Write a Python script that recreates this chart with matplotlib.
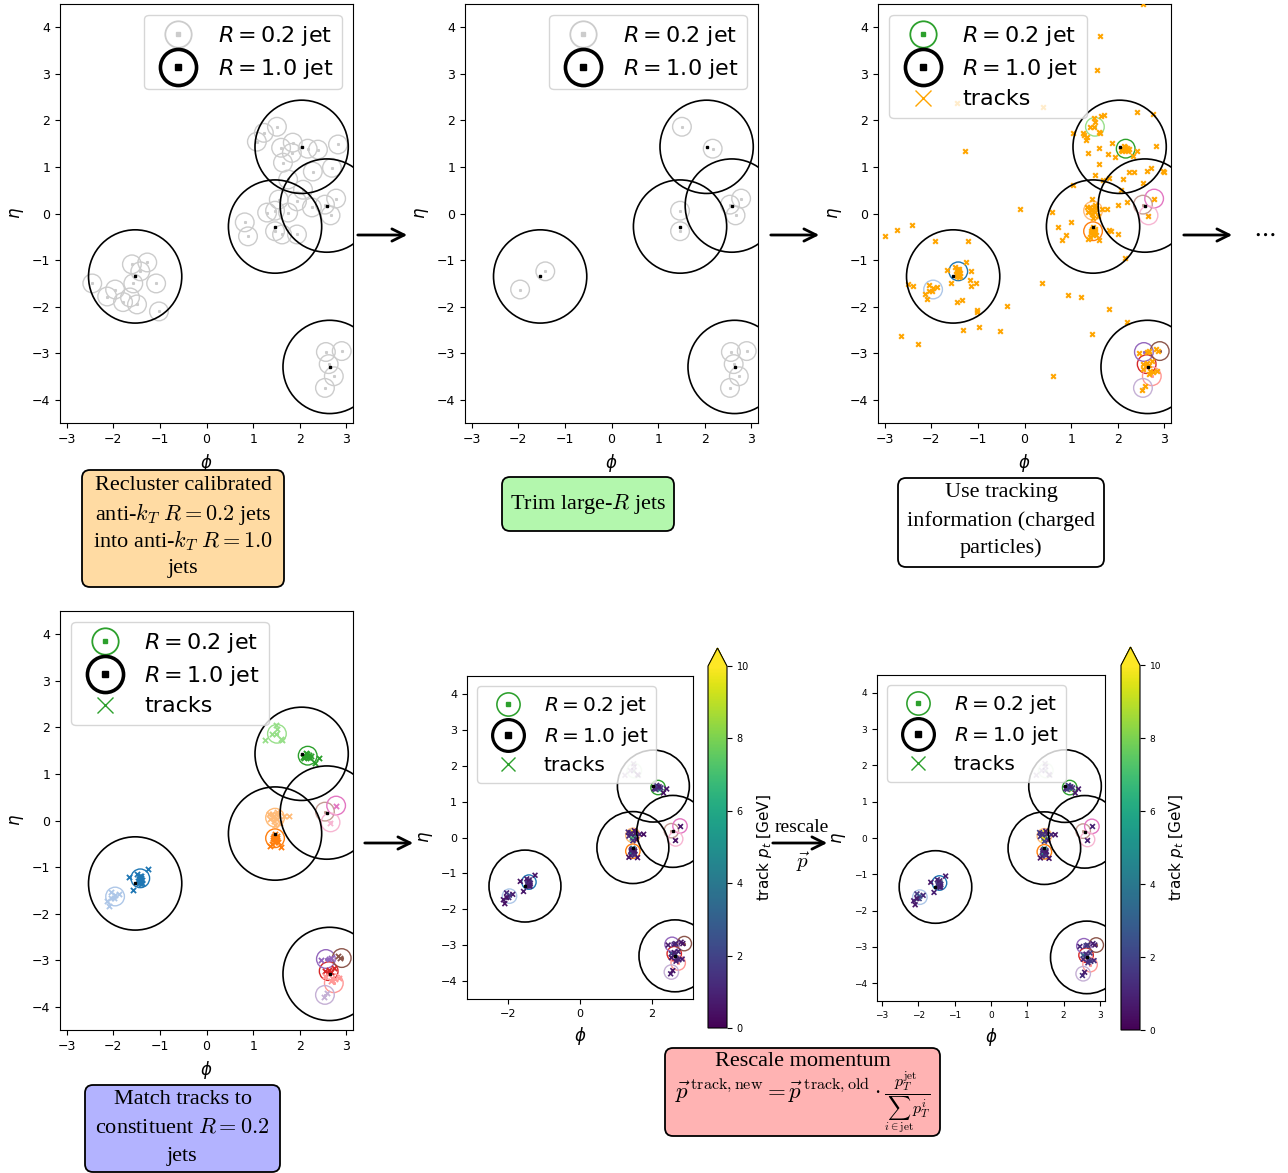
import numpy as np
import matplotlib
matplotlib.use('Agg')
import matplotlib.pyplot as plt
from matplotlib.patches import Circle, FancyArrowPatch, FancyBboxPatch
from matplotlib.lines import Line2D
from matplotlib.legend_handler import HandlerTuple
from matplotlib.transforms import IdentityTransform

W, H = 1288, 1173

# Large-R (R=1.0) jets
large_phi = [2.04, 1.47, 2.58, -1.53, 2.64]
large_eta = [1.43, -0.28, 0.17, -1.35, -3.29]

# R=0.2 jets that survive trimming (colour = tab20 index)
small_phi = [-1.42, -1.96, 1.47, 1.47, 2.17, 1.51, 2.62, 2.73, 2.56, 2.54, 2.90, 2.54, 2.78, 2.66]
small_eta = [-1.24, -1.63, -0.38, 0.06, 1.39, 1.86, -3.23, -3.49, -2.97, -3.74, -2.95, 0.19, 0.32, -0.04]
small_pt = [38.0, 10.0, 40.0, 40.0, 40.0, 5.0, 13.0, 7.0, 4.5, 2.2, 1.8, 3.0, 1.0, 0.9]

# R=0.2 jets removed by trimming
trimmed_phi = [-1.60, -1.27, -1.08, -1.57, -2.45, -2.13, -1.79, -1.64, -1.49, -1.02,
               1.08, 1.23, 1.60, 1.85, 1.83, 2.39, 2.82, 1.64, 2.28, 2.69, 1.75,
               2.07, 2.26, 1.94, 1.75, 1.55, 1.30, 0.82, 0.89, 1.62, 1.94]
trimmed_eta = [-1.09, -1.05, -1.50, -1.50, -1.50, -1.78, -1.90, -1.80, -1.95, -2.10,
               1.54, 1.73, 1.41, 1.52, 1.30, 1.37, 1.48, 1.09, 0.90, 0.98, 0.73,
               0.51, 0.13, 0.26, 0.02, 0.30, 0.02, -0.19, -0.49, -0.45, -0.45]

# tracks matched to each surviving R=0.2 jet
track_phi = [
    [-1.42, -1.45, -1.42, -1.40, -1.45, -1.38, -1.25, -1.66, -1.57, -1.48, -1.43, -1.41,
     -1.39, -1.44, -1.46, -1.40],
    [-2.04, -1.96, -1.87, -1.98, -2.04, -2.13, -2.09],
    [1.47, 1.45, 1.49, 1.43, 1.51, 1.47, 1.41, 1.53, 1.60, 1.36, 1.46, 1.50,
     1.44, 1.48, 1.52, 1.42],
    [1.34, 1.40, 1.49, 1.36, 1.51, 1.45, 1.57, 1.47, 1.51, 1.66, 1.77, 1.42, 1.54],
    [2.11, 2.19, 2.22, 2.17, 2.13, 2.41, 2.32, 2.06, 2.15, 2.25, 2.20, 2.10],
    [1.51, 1.49, 1.60, 1.40, 1.25, 1.49, 1.62],
    [2.54, 2.60, 2.66, 2.73, 2.62],
    [2.69, 2.75, 2.84, 2.67, 2.54],
    [2.45, 2.62, 2.66],
    [2.52, 2.58],
    [2.81, 2.86],
    [],
    [2.77],
    [2.64],
]
track_eta = [
    [-1.20, -1.26, -1.30, -1.24, -1.35, -1.28, -1.05, -1.22, -1.50, -1.15, -1.32, -1.18,
     -1.33, -1.22, -1.29, -1.36],
    [-1.54, -1.60, -1.58, -1.67, -1.67, -1.73, -1.84],
    [-0.30, -0.36, -0.40, -0.42, -0.34, -0.46, -0.50, -0.47, -0.56, -0.55, -0.38, -0.42,
     -0.33, -0.44, -0.38, -0.37],
    [0.15, 0.13, 0.15, 0.04, 0.04, -0.02, -0.06, -0.09, 0.19, 0.09, 0.09, 0.08, 0.11],
    [1.39, 1.37, 1.33, 1.37, 1.45, 1.35, 1.24, 1.36, 1.42, 1.38, 1.41, 1.34],
    [1.97, 1.86, 1.75, 1.86, 1.73, 2.05, 1.73],
    [-3.23, -3.27, -3.25, -3.17, -3.20],
    [-3.38, -3.40, -3.38, -3.44, -3.34],
    [-2.99, -2.97, -2.95],
    [-3.79, -3.70],
    [-2.91, -2.95],
    [],
    [0.32],
    [-0.06],
]
track_pt = [
    [8.5, 5.0, 3.0, 2.0, 1.5, 1.0, 0.6, 0.5, 0.7, 0.8, 1.2, 1.0, 0.9, 0.6, 1.1, 0.7],
    [1.0, 2.0, 0.8, 1.5, 0.5, 0.6, 0.4],
    [4.0, 8.0, 3.0, 2.5, 2.0, 1.5, 1.2, 1.0, 0.5, 0.5, 5.5, 1.0, 0.8, 1.3, 0.6, 0.9],
    [1.2, 0.8, 10.5, 1.0, 3.0, 7.0, 0.5, 1.5, 0.6, 0.9, 0.4, 1.1, 0.7],
    [3.0, 9.0, 6.5, 4.0, 1.0, 0.6, 0.5, 0.7, 2.0, 1.5, 0.8, 1.2],
    [0.5, 0.8, 0.4, 0.6, 0.3, 0.3, 0.4],
    [1.5, 3.0, 2.0, 1.0, 0.8],
    [1.0, 1.2, 0.8, 0.9, 0.7],
    [0.7, 1.2, 0.9],
    [0.8, 0.5],
    [0.6, 0.5],
    [],
    [0.6],
    [0.5],
]

# tracks not matched to any R=0.2 jet
other_phi = [2.54, 1.62, 1.55, -1.27, -0.10, -2.99, -2.73, -2.41, -1.92, -1.21, 0.40, -1.45,
             2.41, 2.75, 1.64, 1.71, 1.04, 1.27, 1.34, 1.32, 1.87, 1.60, 1.36, 1.79, 1.94,
             2.82, 1.60, 2.24, 2.34, 2.62, 2.71, 2.96, 2.99, 1.51, 1.68, 1.81, 2.11, 2.54,
             1.04, 2.07, 1.45, 2.00, 2.20, 0.59, 1.00, 0.72, 0.89, 0.80, 1.81, 1.85, 2.00,
             2.15, 1.81, 2.19, 1.45, -1.15, -1.17, -1.04, -1.15, -2.49, -2.39, -1.34, -1.45,
             -1.02, -1.02, -0.37, -1.32, -0.97, -0.52, -2.65, -2.28, 0.61, 0.37, 0.93, 1.21]
other_eta = [4.49, 3.81, 3.08, 1.35, 0.10, -0.49, -0.36, -0.25, -0.60, -0.58, 2.29, 2.37,
             2.18, 2.14, 2.10, 2.12, 1.73, 1.69, 1.63, 1.58, 1.52, 1.41, 1.30, 1.28, 1.22,
             1.45, 1.07, 0.90, 0.88, 0.92, 0.98, 0.92, 0.88, 0.83, 0.71, 0.77, 0.73, 0.66,
             0.62, 0.51, 0.32, 0.19, 0.24, 0.04, -0.19, -0.28, -0.47, -0.56, -0.36, -0.38, -0.45,
             -0.96, -2.05, -2.33, -2.59, -1.24, -1.43, -1.48, -1.56, -1.52, -1.56, -1.86, -1.90,
             -2.07, -2.12, -1.99, -2.50, -2.44, -2.52, -2.63, -2.80, -3.49, -1.48, -1.75, -1.78]

jet_colors = [plt.cm.tab20(i) for i in range(len(small_phi))]
grey = '0.8'

fig = plt.figure(figsize=(W / 100, H / 100), dpi=100)


def px_axes(left, top, right, bottom):
    return fig.add_axes([left / W, 1 - bottom / H, (right - left) / W, (bottom - top) / H])


def setup(ax, xticks, tick_size=9, label_size=12):
    ax.set_xlim(-np.pi, np.pi)
    ax.set_ylim(-4.5, 4.5)
    ax.set_aspect('equal')
    ax.set_xticks(xticks)
    ax.set_yticks(range(-4, 5))
    ax.tick_params(labelsize=tick_size)
    ax.set_xlabel(r'$\phi$', fontsize=label_size)
    ax.set_ylabel(r'$\eta$', fontsize=label_size)


def draw_large(ax):
    for p, e in zip(large_phi, large_eta):
        ax.add_patch(Circle((p, e), 1.0, fill=False, ec='k', lw=1.2, zorder=3))
        ax.plot(p, e, 's', ms=1.5, color='k', zorder=4)


def draw_small(ax, phis, etas, colors, alphas=None):
    for i, (p, e) in enumerate(zip(phis, etas)):
        c = colors[i]
        a = 1.0 if alphas is None else alphas[i]
        ax.add_patch(Circle((p, e), 0.2, fill=False, ec=c, lw=1.0, alpha=a, zorder=2))
        ax.plot(p, e, 's', ms=1.2, color=c, alpha=a, zorder=2)


def ring(color, scale, big=False):
    if big:
        return (Line2D([], [], ls='none', marker='o', ms=26 * scale, mfc='none', mec=color, mew=2.6 * scale),
                Line2D([], [], ls='none', marker='s', ms=4.5 * scale, color=color))
    return (Line2D([], [], ls='none', marker='o', ms=19 * scale, mfc='none', mec=color, mew=1.3 * scale),
            Line2D([], [], ls='none', marker='s', ms=2.8 * scale, color=color))


def add_legend(ax, small_color, track_color=None, loc='upper right', fontsize=16, scale=1.0):
    handles = [ring(small_color, scale), ring('k', scale, big=True)]
    labels = [r'$R = 0.2$ jet', r'$R = 1.0$ jet']
    if track_color is not None:
        handles.append(Line2D([], [], ls='none', marker='x', ms=12 * scale, mew=1, color=track_color))
        labels.append('tracks')
    ax.legend(handles, labels, handler_map={tuple: HandlerTuple(ndivide=1)},
              loc=loc, fontsize=fontsize, handlelength=2.25, handletextpad=0.65,
              labelspacing=0.4)


all_phi = np.concatenate([np.concatenate([np.array(t) for t in track_phi]), other_phi])
all_eta = np.concatenate([np.concatenate([np.array(t) for t in track_eta]), other_eta])

# step 1: recluster
ax1 = px_axes(60, 3, 353, 424)
setup(ax1, range(-3, 4))
draw_small(ax1, trimmed_phi + small_phi, trimmed_eta + small_eta,
           [grey] * (len(trimmed_phi) + len(small_phi)))
draw_large(ax1)
add_legend(ax1, grey)

# step 2: trimming
ax2 = px_axes(465, 3, 758, 424)
setup(ax2, range(-3, 4))
draw_small(ax2, small_phi, small_eta, [grey] * len(small_phi))
draw_large(ax2)
add_legend(ax2, grey)

# step 3: tracks
ax3 = px_axes(878, 3, 1171, 424)
setup(ax3, range(-3, 4))
draw_small(ax3, small_phi, small_eta, jet_colors)
ax3.scatter(all_phi, all_eta, marker='x', s=11, lw=1.5, color='orange', zorder=3)
draw_large(ax3)
add_legend(ax3, 'tab:green', 'orange', loc='upper left')

# step 4: matching
ax4 = px_axes(60, 610, 353, 1031)
setup(ax4, range(-3, 4))
draw_small(ax4, small_phi, small_eta, jet_colors)
for j in range(len(small_phi)):
    if track_phi[j]:
        ax4.scatter(track_phi[j], track_eta[j], marker='x', s=14, lw=1.3,
                    color=jet_colors[j], zorder=3)
draw_large(ax4)
add_legend(ax4, 'tab:green', 'tab:green', loc='upper left')

# steps 5 and 6: track pt before and after rescaling
norm = matplotlib.colors.Normalize(0, 10)
fade = [0.35 if j == 5 else 1.0 for j in range(len(small_phi))]


def pt_panel(ax, cax, pts, xticks, tick_size, cb_size):
    setup(ax, xticks, tick_size=tick_size, label_size=12)
    draw_small(ax, small_phi, small_eta, jet_colors, fade)
    for j in range(len(small_phi)):
        if track_phi[j]:
            ax.scatter(track_phi[j], track_eta[j], c=pts[j], cmap='viridis', norm=norm,
                       marker='x', s=12, lw=1.2, alpha=fade[j], zorder=3)
    draw_large(ax)
    add_legend(ax, 'tab:green', 'tab:green', loc='upper left', fontsize=14.5, scale=0.88)
    sm = matplotlib.cm.ScalarMappable(norm=norm, cmap='viridis')
    cb = fig.colorbar(sm, cax=cax, extend='max')
    cb.set_ticks([0, 2, 4, 6, 8, 10])
    cb.ax.tick_params(labelsize=cb_size)
    cb.set_label(r'track $p_t$ [GeV]', fontsize=11)


ax5 = px_axes(467, 675, 693, 1000)
cax5 = px_axes(708, 648, 727, 1028)
pt_panel(ax5, cax5, track_pt, [-2, 0, 2], 8, 7)

rescaled = []
for j in range(len(small_phi)):
    total = sum(track_pt[j])
    rescaled.append([p * small_pt[j] / total for p in track_pt[j]] if total > 0 else [])

ax6 = px_axes(877, 674, 1105, 1002)
cax6 = px_axes(1121, 647, 1140, 1030)
pt_panel(ax6, cax6, rescaled, range(-3, 4), 6.5, 6.5)

# arrows between the steps
for x0, x1, y in [(355, 410, 235), (768, 822, 235), (1181, 1235, 235),
                  (362, 416, 843), (770, 830, 843)]:
    fig.patches.append(FancyArrowPatch((x0 / W, 1 - y / H), (x1 / W, 1 - y / H),
                                       transform=fig.transFigure, arrowstyle='->',
                                       mutation_scale=22, lw=2, color='k'))
fig.text(1264 / W, 1 - 233 / H, r'$\cdots$', fontsize=18, ha='center', va='center',
         math_fontfamily='cm')
fig.text(802 / W, 1 - 828 / H, 'rescale', fontsize=14, ha='center', va='center',
         family='Liberation Serif')
fig.text(803 / W, 1 - 862 / H, r'$\vec{p}$', fontsize=15, ha='center', va='center',
         math_fontfamily='cm')

# step descriptions: box extent (left, top, right, bottom) in pixels, lines and their heights
formula = (r'$\vec{p}^{\,\mathrm{track,new}} = \vec{p}^{\,\mathrm{track,old}} \cdot '
           r'\frac{p_T^{\mathrm{jet}}}{\sum_{i\in\mathrm{jet}} p_T^i}$')
boxes = [
    ((82, 470, 284, 587), (1.0, 0.86, 0.64),
     ['Recluster calibrated', 'anti-$k_T$ $R = 0.2$ jets', 'into anti-$k_T$ $R = 1.0$', 'jets'],
     [486, 514, 541, 568], [16] * 4),
    ((502, 477, 674, 531), (0.70, 0.97, 0.68), ['Trim large-$R$ jets'], [504], [16]),
    ((898, 478, 1104, 567), 'white',
     ['Use tracking', 'information (charged', 'particles)'], [493, 521, 548], [16] * 3),
    ((85, 1085, 280, 1172), (0.70, 0.70, 1.0),
     ['Match tracks to', 'constituent $R = 0.2$', 'jets'], [1100, 1128, 1156], [16] * 3),
    ((665, 1048, 940, 1136), (1.0, 0.70, 0.70), ['Rescale momentum', formula],
     [1062, 1102], [16, 16.5]),
]
for (l, t, r, b), fc, lines, ys, sizes in boxes:
    fig.patches.append(FancyBboxPatch((l, H - b), r - l, b - t,
                                      boxstyle='round,pad=0,rounding_size=8',
                                      transform=IdentityTransform(), fc=fc, ec='k', lw=1.3))
    for line, y, fs in zip(lines, ys, sizes):
        fig.text((l + r) / 2 / W, 1 - y / H, line, fontsize=fs, ha='center', va='center',
                 family='Liberation Serif', math_fontfamily='cm')

fig.savefig('out.png', dpi=100)
